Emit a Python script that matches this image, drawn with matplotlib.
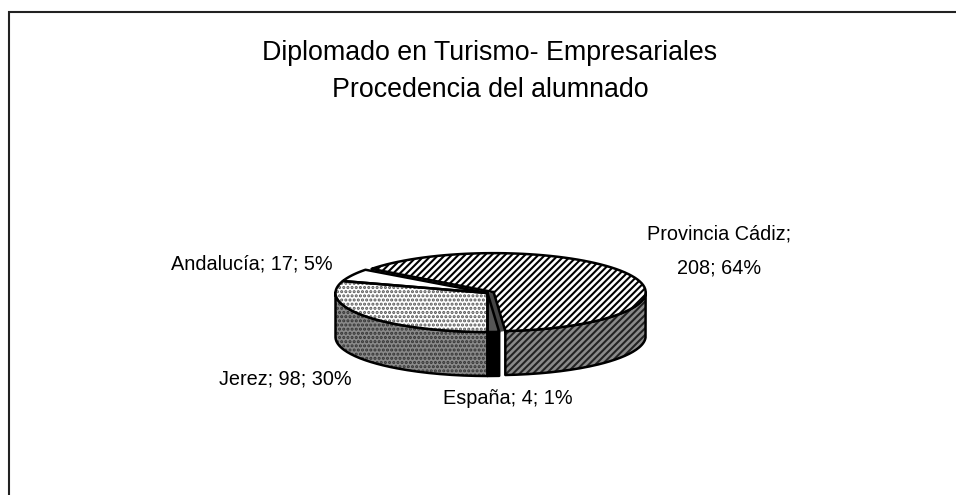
import numpy as np
import matplotlib
matplotlib.use('Agg')
import matplotlib.pyplot as plt

plt.rcParams['font.family'] = ['Liberation Sans', 'DejaVu Sans']
plt.rcParams['hatch.linewidth'] = 1.5

# Slices clockwise, starting with the large one
names = ['Provincia Cádiz', 'España', 'Jerez', 'Andalucía']
values = [208, 4, 98, 17]
title_lines = ['Diplomado en Turismo- Empresariales', 'Procedencia del alumnado']

# Pie geometry in image pixels
cx, cy = 487.5, 293
rx, ry = 152, 39
depth = 44
start = 143.4
explode = [7, 0, 0, 0]

top_style = [
    dict(facecolor='white', edgecolor='black', hatch='/////'),
    dict(facecolor='#555555', edgecolor='#555555', hatch=None),
    dict(facecolor='white', edgecolor='#555555', hatch='....'),
    dict(facecolor='white', edgecolor='white', hatch=None),
]
side_style = [
    dict(facecolor='#8a8a8a', edgecolor='#222222', hatch='/////'),
    dict(facecolor='black', edgecolor='black', hatch=None),
    dict(facecolor='#8a8a8a', edgecolor='#333333', hatch='....'),
    dict(facecolor='white', edgecolor='white', hatch=None),
]


def rim(x0, y0, t1, t2):
    t = np.radians(np.linspace(t1, t2, 80))
    return x0 + rx * np.cos(t), y0 - ry * np.sin(t)


def slice_center(i):
    mid = np.radians((angles[i] + angles[i + 1]) / 2)
    return cx + explode[i] * np.cos(mid), cy - explode[i] * np.sin(mid) * ry / rx


fig, ax = plt.subplots(figsize=(9.56, 4.95), dpi=100)
ax.set_position([0, 0, 1, 1])
ax.set_xlim(0, 956)
ax.set_ylim(495, 0)
ax.axis('off')

# Chart frame: only top and left edges show
ax.plot([956, 9.5, 9.5], [11.5, 11.5, 495], color='#222222', lw=1.5, solid_joinstyle='miter')

total = sum(values)
sweeps = [v / total * 360 for v in values]
angles = start - np.concatenate([[0], np.cumsum(sweeps)])

# Side walls first
for i in range(len(values)):
    x0, y0 = slice_center(i)
    a, b = min(angles[i], angles[i + 1]), max(angles[i], angles[i + 1])
    # keep only the part of the rim on the front of the pie
    for shift in (0, 360, -360):
        lo, hi = max(a + shift, -180), min(b + shift, 0)
        if lo < hi:
            xs, ys = rim(x0, y0, lo, hi)
            px = np.concatenate([xs, xs[::-1]])
            py = np.concatenate([ys, ys[::-1] + depth])
            ax.fill(px, py, lw=0, zorder=2, **side_style[i])
            ax.plot(np.append(px, px[0]), np.append(py, py[0]), color='black', lw=1.8, zorder=3)

# Dark cut face left open by the pulled out slice
x_a, y_a = slice_center(0)
xa, ya = rim(x_a, y_a, angles[1], angles[1])
xb, yb = rim(cx, cy, angles[1], angles[1])
ax.fill([cx, x_a, xa[0], xb[0]], [cy, y_a, ya[0], yb[0]], color='#444444', lw=0, zorder=3)

# Top faces
for i in [0, 2, 3, 1]:
    x0, y0 = slice_center(i)
    xs, ys = rim(x0, y0, angles[i], angles[i + 1])
    px = np.concatenate([[x0], xs, [x0]])
    py = np.concatenate([[y0], ys, [y0]])
    ax.fill(px, py, lw=0, zorder=4, **top_style[i])
    ax.plot(px, py, color='black', lw=1.8, zorder=5)

# Labels
texts = [f'{n}; {v}; {round(v / total * 100)}%' for n, v in zip(names, values)]
fs = 14.3
ax.text(719, 251, texts[0].replace('; ', ';\n', 1), ha='center', va='center', fontsize=fs, linespacing=2.05)
ax.text(508, 398, texts[1], ha='center', va='center', fontsize=fs)
ax.text(285, 379, texts[2], ha='center', va='center', fontsize=fs)
ax.text(252, 264, texts[3], ha='center', va='center', fontsize=fs)

ax.text(490, 53, title_lines[0], ha='center', va='center', fontsize=19.3)
ax.text(490, 90, title_lines[1], ha='center', va='center', fontsize=19.3)

fig.savefig('out.png', dpi=100)
